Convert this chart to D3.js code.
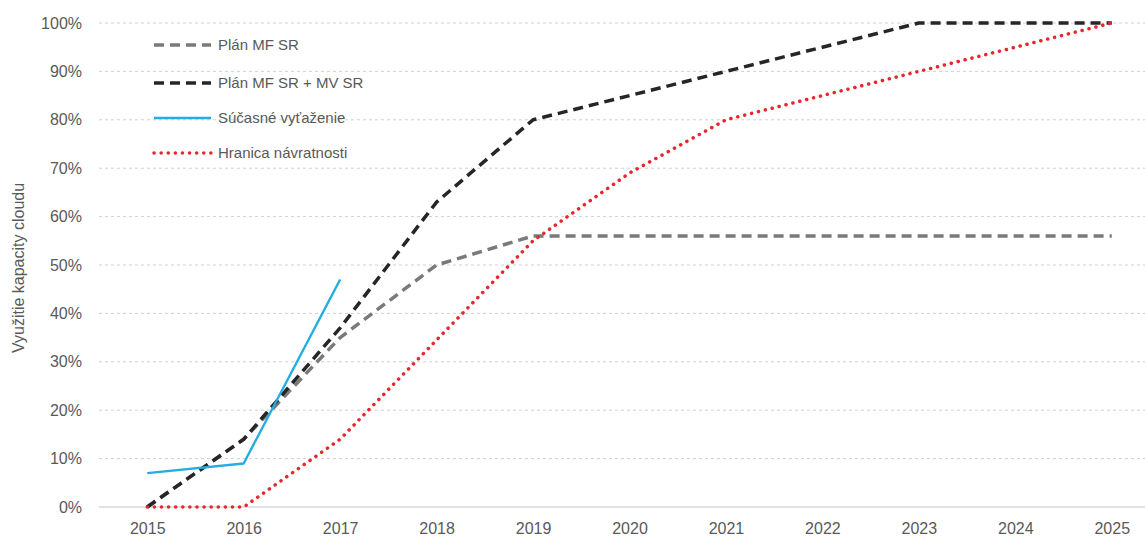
<!DOCTYPE html>
<html><head><meta charset="utf-8">
<script src="https://cdn.jsdelivr.net/npm/d3@7"></script>
<style>
body{margin:0;background:#fff;}
text{font-family:"Liberation Sans Narrow","Arial Narrow","Liberation Sans",Arial,sans-serif;fill:#595959;}
</style></head><body>
<svg id="c" width="1145" height="540"></svg>
<script>
const years = ["2015","2016","2017","2018","2019","2020","2021","2022","2023","2024","2025"];
const planMF = [0,14,35,50,56,56,56,56,56,56,56];
const planMFMV = [0,14,37,63,80,85,90,95,100,100,100];
const current = [7,9,47];
const breakEven = [0,0,14,34.5,55,69,80,85,90,95,100];
const yTicks = [0,10,20,30,40,50,60,70,80,90,100];
const seriesNames = ["Plán MF SR","Plán MF SR + MV SR","Súčasné vyťaženie","Hranica návratnosti"];
const yTitle = "Využitie kapacity cloudu";

const svg = d3.select("#c");
const x = d3.scalePoint().domain(years).range([99,1160]).padding(0.5);
const y = d3.scaleLinear().domain([0,100]).range([507,23]);

svg.append("g").selectAll("line").data(yTicks.filter(d=>d>0)).join("line")
  .attr("x1",99).attr("x2",1145).attr("y1",d=>y(d)).attr("y2",d=>y(d))
  .attr("stroke","#d0d0d0").attr("stroke-width",1).attr("stroke-dasharray","3,3");
svg.append("line").attr("x1",99).attr("x2",1145).attr("y1",y(0)).attr("y2",y(0))
  .attr("stroke","#d9d9d9").attr("stroke-width",1.5);

const ya = svg.append("g").attr("transform","translate(82,0)")
  .call(d3.axisLeft(y).tickValues(yTicks).tickFormat(d=>d+"%").tickSize(0).tickPadding(0));
ya.select(".domain").remove();
ya.selectAll("text").attr("font-size",16).attr("fill","#595959").style("font-family",null);

const xa = svg.append("g").attr("transform","translate(0,523)")
  .call(d3.axisBottom(x).tickSize(0).tickPadding(0));
xa.select(".domain").remove();
xa.selectAll("text").attr("font-size",16).attr("fill","#595959").attr("dy","0.71em").style("font-family",null);

svg.append("text").attr("transform","translate(24,268) rotate(-90)")
  .attr("text-anchor","middle").attr("font-size",16).text(yTitle);

const line = d3.line().x((d,i)=>x(years[i])).y(d=>y(d));
const styles = [
  {data:planMF, stroke:"#7a7a7a", w:3.5, dash:"10,6", cap:"butt"},
  {data:planMFMV, stroke:"#262626", w:3.5, dash:"10,6", cap:"butt"},
  {data:breakEven, stroke:"#e8262c", w:3.5, dash:"0.1,7", cap:"round"},
  {data:current, stroke:"#22aee0", w:2.4, dash:null, cap:"butt"}
];
styles.forEach(s=>{
  svg.append("path").attr("d",line(s.data)).attr("fill","none")
    .attr("stroke",s.stroke).attr("stroke-width",s.w)
    .attr("stroke-dasharray",s.dash).attr("stroke-linecap",s.cap).attr("stroke-linejoin","round");
});

const legY = [45,83,118,153];
const legStyles = [styles[0],styles[1],styles[3],styles[2]];
seriesNames.forEach((n,i)=>{
  const s = legStyles[i];
  svg.append("line").attr("x1",154).attr("x2",211).attr("y1",legY[i]).attr("y2",legY[i])
    .attr("stroke",s.stroke).attr("stroke-width",s.w).attr("stroke-dasharray",s.dash).attr("stroke-linecap",s.cap);
  svg.append("text").attr("x",218).attr("y",legY[i]).attr("dy","0.35em").attr("font-size",15).attr("fill","#6a6a6a").text(n);
});
</script></body></html>
